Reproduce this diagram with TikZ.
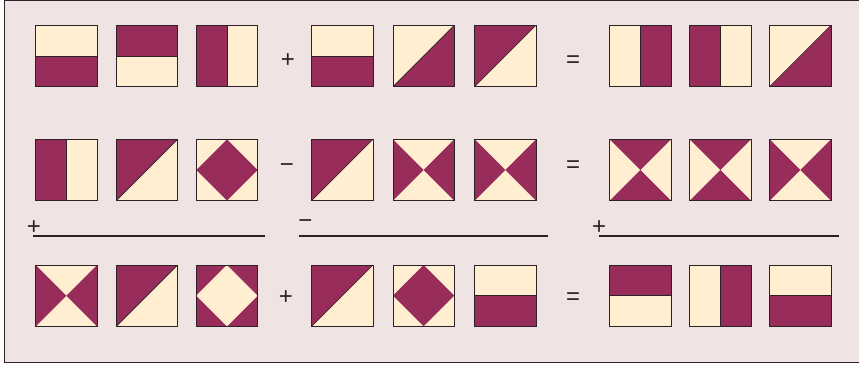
\documentclass[tikz,border=0pt]{standalone}
\usepackage{fontspec}
\setmainfont{Liberation Sans}
\usetikzlibrary{positioning}
\definecolor{QuiltRed}{HTML}{982C5A}
\definecolor{QuiltCream}{HTML}{FFEED0}
\definecolor{PanelRose}{HTML}{EFE3E4}
\definecolor{InkDark}{HTML}{2A2226}
\def\tw{61.3}
\def\hw{30.65}
\tikzset{
  patch/.style={fill=QuiltRed},
  seam/.style={draw=InkDark,line width=.6pt},
  rim/.style={draw=InkDark,line width=1pt},
  sign/.style={font=\fontsize{24}{24}\selectfont,text=InkDark,inner sep=0pt},
  rule/.style={draw=InkDark,line width=1.9pt},
  halfbot/.pic={\fill[QuiltCream] (0,0) rectangle (\tw,\tw);
    \fill[patch] (0,\hw) rectangle (\tw,\tw);
    \draw[seam] (0,\hw) -- (\tw,\hw); \draw[rim] (0,0) rectangle (\tw,\tw);},
  halftop/.pic={\fill[QuiltCream] (0,0) rectangle (\tw,\tw);
    \fill[patch] (0,0) rectangle (\tw,\hw);
    \draw[seam] (0,\hw) -- (\tw,\hw); \draw[rim] (0,0) rectangle (\tw,\tw);},
  halfleft/.pic={\fill[QuiltCream] (0,0) rectangle (\tw,\tw);
    \fill[patch] (0,0) rectangle (\hw,\tw);
    \draw[seam] (\hw,0) -- (\hw,\tw); \draw[rim] (0,0) rectangle (\tw,\tw);},
  halfright/.pic={\fill[QuiltCream] (0,0) rectangle (\tw,\tw);
    \fill[patch] (\hw,0) rectangle (\tw,\tw);
    \draw[seam] (\hw,0) -- (\hw,\tw); \draw[rim] (0,0) rectangle (\tw,\tw);},
  diagup/.pic={\fill[QuiltCream] (0,0) rectangle (\tw,\tw);
    \fill[patch] (0,0) -- (\tw,0) -- (0,\tw) -- cycle;
    \draw[seam] (0,\tw) -- (\tw,0); \draw[rim] (0,0) rectangle (\tw,\tw);},
  diagdown/.pic={\fill[QuiltCream] (0,0) rectangle (\tw,\tw);
    \fill[patch] (\tw,0) -- (\tw,\tw) -- (0,\tw) -- cycle;
    \draw[seam] (0,\tw) -- (\tw,0); \draw[rim] (0,0) rectangle (\tw,\tw);},
  hoursides/.pic={\fill[QuiltCream] (0,0) rectangle (\tw,\tw);
    \fill[patch] (0,0) -- (\hw,\hw) -- (0,\tw) -- cycle;
    \fill[patch] (\tw,0) -- (\hw,\hw) -- (\tw,\tw) -- cycle;
    \draw[rim] (0,0) rectangle (\tw,\tw);},
  hourends/.pic={\fill[QuiltCream] (0,0) rectangle (\tw,\tw);
    \fill[patch] (0,0) -- (\hw,\hw) -- (\tw,0) -- cycle;
    \fill[patch] (0,\tw) -- (\hw,\hw) -- (\tw,\tw) -- cycle;
    \draw[rim] (0,0) rectangle (\tw,\tw);},
  gemred/.pic={\fill[QuiltCream] (0,0) rectangle (\tw,\tw);
    \fill[patch] (\hw,0) -- (\tw,\hw) -- (\hw,\tw) -- (0,\hw) -- cycle;
    \draw[rim] (0,0) rectangle (\tw,\tw);},
  gemcream/.pic={\fill[QuiltRed] (0,0) rectangle (\tw,\tw);
    \fill[QuiltCream] (\hw,0) -- (\tw,\hw) -- (\hw,\tw) -- (0,\hw) -- cycle;
    \draw[rim] (0,0) rectangle (\tw,\tw);}
}
\begin{document}
\begin{tikzpicture}[x=1pt,y=-1pt]
  \useasboundingbox[fill=white] (0,0) rectangle (859,366);
  \clip (0,0) rectangle (859,366);
  \draw[InkDark,line width=1.2pt,fill=PanelRose] (4.3,0.5) rectangle (880,362.7);
  % first row
  \foreach \kind/\xx [count=\i] in {halfbot/35.7,halftop/116.3,halfleft/196.3,
      halfbot/311.7,diagdown/393,diagup/474.7,halfright/609.7,halfleft/689.7,diagdown/769.7}
    \pic (ra\i) at (\xx,25.3) {\kind};
  % second row
  \foreach \kind/\xx [count=\i] in {halfleft/35.7,diagup/116.3,gemred/196.3,
      diagup/311.7,hoursides/393,hoursides/474.7,hourends/609.7,hourends/689.7,hoursides/769.7}
    \pic (rb\i) at (\xx,139.3) {\kind};
  % third row
  \foreach \kind/\xx [count=\i] in {hoursides/35.7,diagup/116.3,gemcream/196.3,
      diagup/311.7,gemred/393,halfbot/474.7,halftop/609.7,halfright/689.7,halfbot/769.7}
    \pic (rc\i) at (\xx,265) {\kind};
  % signs
  \node[sign] (plusa) at (288,61) {+};
  \node[sign] (eqa) at (573,62) {=};
  \node[sign] (minusb) at (287,168) {−};
  \node[sign] (eqb) at (573,166.7) {=};
  \node[sign] (plusc) at (286,298) {+};
  \node[sign] (eqc) at (573,298.3) {=};
  \node[sign] (sumleft) at (34,228) {+};
  \node[sign] (summid) at (305.5,224) {−};
  \node[sign] (sumright) at (599,228) {+};
  % rules under the second row
  \draw[rule] (33.3,235.7) -- (265,235.7);
  \draw[rule] (299.3,235.7) -- (548.3,235.7);
  \draw[rule] (599,235.7) -- (839.3,235.7);
\end{tikzpicture}
\end{document}
